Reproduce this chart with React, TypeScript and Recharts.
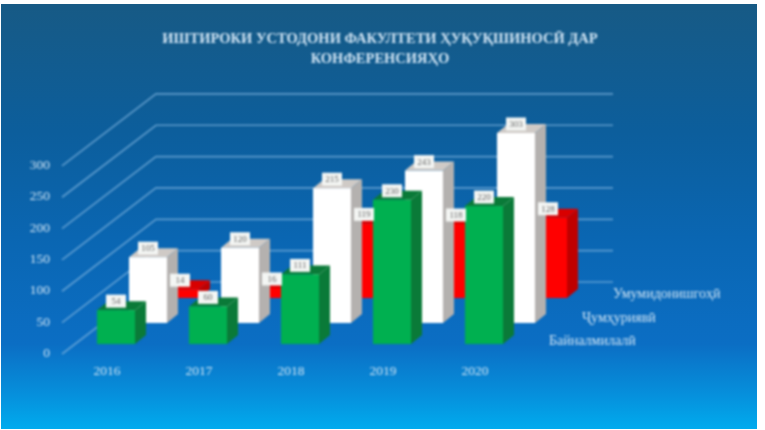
import { Bar, ComposedChart, LabelList, XAxis, YAxis } from 'recharts';

const years = ['2016', '2017', '2018', '2019', '2020'];
const international = [54, 60, 111, 230, 220];
const republican = [105, 120, 215, 243, 303];
const university = [14, 16, 119, 118, 128];
const yTicks = [0, 50, 100, 150, 200, 250, 300];
const titleLines = ['ИШТИРОКИ УСТОДОНИ ФАКУЛТЕТИ ҲУҚУҚШИНОСӢ ДАР', 'КОНФЕРЕНСИЯҲО'];
const seriesNames = ['Байналмилалӣ', 'Ҷумҳуриявӣ', 'Умумидонишгоҳӣ'];

const data = years.map((year, i) => ({
  year,
  international: international[i],
  republican: republican[i],
  university: university[i],
}));

const TEXT = '#d3e6f5';
const SERIF = '"Liberation Serif", serif';
const DEPTH_X = 11;
const DEPTH_Y = 9;
const CHART_MARGIN = { top: 164, right: 244, bottom: 46, left: 0 };

/** Wall tick: the label plus the gridline running back and along the rear wall. */
function WallTick({ x, y, payload }: any) {
  const pts = `${x + 1},${y} ${x + 95},${y - 72} ${x + 552},${y - 72}`;
  return (
    <g>
      <polyline points={pts} fill="none" stroke="#7fb4de" strokeOpacity={0.7} strokeWidth={1.7} />
      <text x={x - 11} y={y + 3} textAnchor="end" fontSize={13.5} fontFamily={SERIF} fill={TEXT}>
        {payload.value}
      </text>
    </g>
  );
}

function Box3D({ x, y, width, height, dx, dy, front, side, top }: any) {
  const l = x + dx;
  const t = y + dy;
  const r = l + width;
  const b = t + height;
  return (
    <g>
      <polygon
        points={`${r},${t} ${r + DEPTH_X},${t - DEPTH_Y} ${r + DEPTH_X},${b - DEPTH_Y} ${r},${b}`}
        fill={side}
      />
      <polygon
        points={`${l},${t} ${l + DEPTH_X},${t - DEPTH_Y} ${r + DEPTH_X},${t - DEPTH_Y} ${r},${t}`}
        fill={top}
      />
      <rect x={l} y={t} width={width} height={height} fill={front} />
    </g>
  );
}

function ValueTag({ x, y, width, value, dx, dy }: any) {
  const cx = x + dx + width / 2;
  const cy = y + dy - 9;
  return (
    <g>
      <rect x={cx - 10} y={cy - 6.5} width={20} height={13} fill="#f4f6f4" />
      <text x={cx} y={cy + 3} textAnchor="middle" fontSize={9} fontFamily={SERIF} fill="#666">
        {value}
      </text>
    </g>
  );
}

function DepthName({ name, left, top }: { name: string; left: number; top: number }) {
  return (
    <div
      style={{
        position: 'absolute',
        left,
        top,
        color: TEXT,
        fontFamily: SERIF,
        fontSize: 14,
        lineHeight: '14px',
        whiteSpace: 'nowrap',
      }}
    >
      {name}
    </div>
  );
}

const layer = { position: 'absolute', left: 0, top: 0 } as const;

export default function App() {
  return (
    <div style={{ position: 'fixed', left: 0, top: 0, width: 765, height: 430, background: '#fff' }}>
      <div
        style={{
          position: 'absolute',
          left: 1,
          top: 4,
          width: 756,
          height: 425,
          background:
            'linear-gradient(180deg, #175a85 0%, #0c5e9c 30%, #0a66b2 55%, #0b6ec4 80%, #0690dc 92%, #00abee 100%)',
        }}
      />
      <div style={{ ...layer, width: 765, height: 430, filter: 'blur(0.8px)' }}>
        <div
          style={{
            position: 'absolute',
            left: 100,
            top: 28,
            width: 560,
            textAlign: 'center',
            color: TEXT,
            fontFamily: SERIF,
            fontWeight: 700,
            fontSize: 14.5,
            lineHeight: '20px',
          }}
        >
          {titleLines.map((line) => (
            <div key={line}>{line}</div>
          ))}
        </div>
        {/* walls sit in their own chart, the axis would otherwise paint over the bars */}
        <div style={layer}>
          <ComposedChart width={765} height={430} data={data} barSize={38} margin={CHART_MARGIN}>
            <XAxis
              dataKey="year"
              height={30}
              axisLine={false}
              tickLine={false}
              tickMargin={5}
              tick={{ fill: TEXT, fontSize: 13.5, fontFamily: SERIF }}
            />
            <YAxis
              width={61}
              domain={[0, 300]}
              ticks={yTicks}
              interval={0}
              axisLine={false}
              tickLine={false}
              tickSize={0}
              tickMargin={0}
              tick={<WallTick />}
            />
            <Bar dataKey="republican" isAnimationActive={false} shape={() => <g />} />
          </ComposedChart>
        </div>
        <div style={layer}>
          <ComposedChart width={765} height={430} data={data} barSize={38} barGap={-38} margin={CHART_MARGIN}>
            <XAxis dataKey="year" height={30} axisLine={false} tickLine={false} tick={false} />
            <YAxis width={61} domain={[0, 300]} ticks={yTicks} axisLine={false} tickLine={false} tick={false} />
            <Bar
              dataKey="university"
              isAnimationActive={false}
              shape={(p: any) => <Box3D {...p} dx={73} dy={-56} front="#ff0000" side="#bf0000" top="#d80000" />}
            >
              <LabelList dataKey="university" content={(p: any) => <ValueTag {...p} dx={73} dy={-56} />} />
            </Bar>
            <Bar
              dataKey="republican"
              isAnimationActive={false}
              shape={(p: any) => <Box3D {...p} dx={41} dy={-31} front="#ffffff" side="#b4b1af" top="#cfcac6" />}
            >
              <LabelList dataKey="republican" content={(p: any) => <ValueTag {...p} dx={41} dy={-31} />} />
            </Bar>
            <Bar
              dataKey="international"
              isAnimationActive={false}
              shape={(p: any) => <Box3D {...p} dx={9} dy={-10} front="#00b050" side="#0a7a38" top="#0a7a38" />}
            >
              <LabelList dataKey="international" content={(p: any) => <ValueTag {...p} dx={9} dy={-10} />} />
            </Bar>
          </ComposedChart>
        </div>
        <DepthName name={seriesNames[2]} left={613} top={287} />
        <DepthName name={seriesNames[1]} left={582} top={311} />
        <DepthName name={seriesNames[0]} left={549} top={334} />
      </div>
    </div>
  );
}
